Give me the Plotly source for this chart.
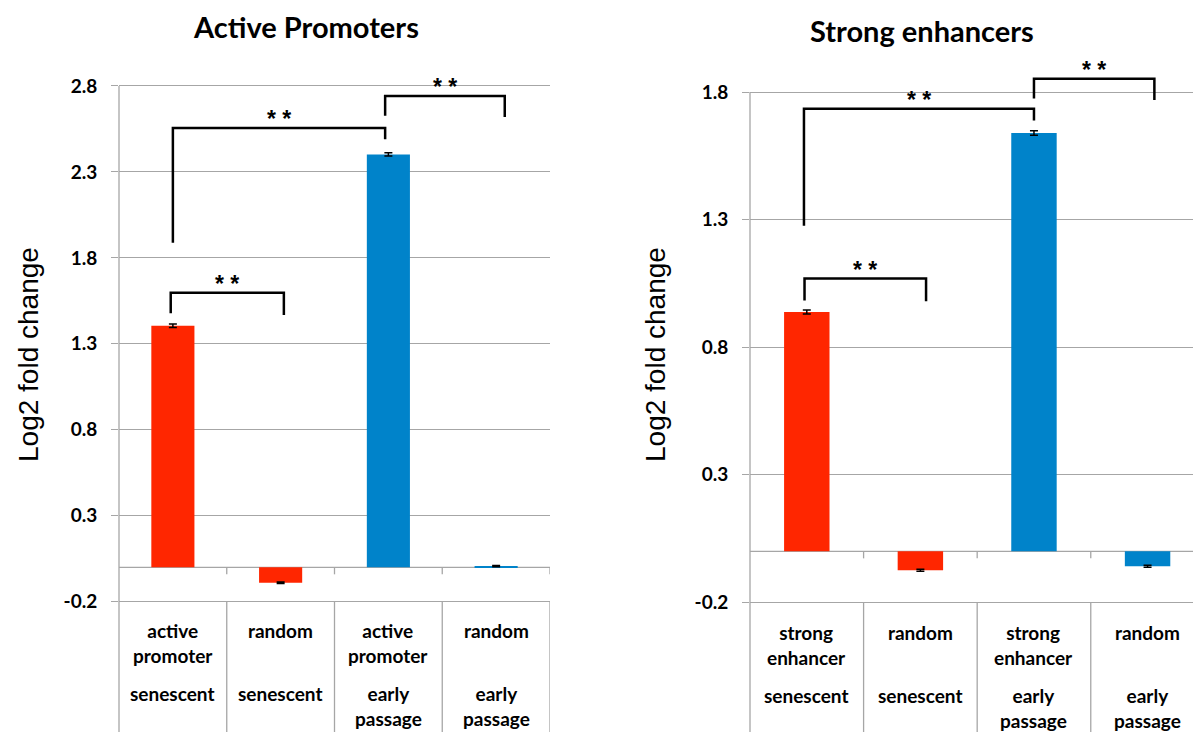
import plotly.graph_objects as go

FIG_W, FIG_H = 1193, 732

# ---- data -------------------------------------------------------------
promoter_types = ["active<br>promoter", "random", "active<br>promoter", "random"]
enhancer_types = ["strong<br>enhancer", "random", "strong<br>enhancer", "random"]
cell_states = ["senescent", "senescent", "early<br>passage", "early<br>passage"]

promoter_values = [1.405, -0.090, 2.402, 0.007]
promoter_errors = [0.010, 0.004, 0.010, 0.004]
enhancer_values = [0.938, -0.074, 1.640, -0.058]
enhancer_errors = [0.008, 0.004, 0.009, 0.004]

bar_colors = ["#FF2600", "#FF2600", "#0083CA", "#0083CA"]

promoter_ticks = [-0.2, 0.3, 0.8, 1.3, 1.8, 2.3, 2.8]
enhancer_ticks = [-0.2, 0.3, 0.8, 1.3, 1.8]

# significance brackets: (x start, x end, bar height, left foot, right foot)
promoter_brackets = [
    (-0.02, 1.03, 1.597, 1.478, 1.468),
    (0.00, 1.97, 2.556, 1.888, 2.490),
    (1.97, 3.08, 2.742, 2.627, 2.620),
]
enhancer_brackets = [
    (-0.02, 1.05, 1.069, 0.983, 0.980),
    (-0.025, 2.00, 1.735, 1.276, 1.689),
    (2.00, 3.06, 1.852, 1.775, 1.769),
]

GRID = "#A6A6A6"
LABEL_FONT = "Lato"

panels = [
    dict(xa="x", ya="y", types=promoter_types, values=promoter_values,
         errors=promoter_errors, ticks=promoter_ticks, brackets=promoter_brackets,
         title="Active Promoters", title_xy=(306, 27),
         xdom=(119, 550), xrange=(-0.5, 3.5), yrange=(-0.958, 3.30),
         ytitle_x=28, rows=(617, 680)),
    dict(xa="x2", ya="y2", types=enhancer_types, values=enhancer_values,
         errors=enhancer_errors, ticks=enhancer_ticks, brackets=enhancer_brackets,
         title="Strong enhancers", title_xy=(922, 31),
         xdom=(750, 1193), xrange=(-0.5, 3.40), yrange=(-0.708, 2.161),
         ytitle_x=655, rows=(619, 682)),
]

fig = go.Figure()
shapes, annotations = [], []

for i, p in enumerate(panels):
    xs = list(range(len(p["values"])))
    fig.add_trace(go.Bar(
        x=xs, y=p["values"], width=0.4,
        marker=dict(color=bar_colors, line=dict(width=0)),
        error_y=dict(type="data", array=p["errors"], color="black",
                     thickness=1.5, width=4),
        xaxis=p["xa"], yaxis=p["ya"], hoverinfo="skip",
    ))

    y0, y1 = p["yrange"]
    px_per_unit = FIG_H / (y1 - y0)
    bounds = [k + 0.5 for k in xs]
    xd0 = p["xdom"][0] / FIG_W

    # value axis line, zero line, category ticks and label-table rules
    shapes.append(dict(type="line", xref="paper", yref=p["ya"], x0=xd0, x1=xd0,
                       y0=p["ticks"][-1], y1=y0, line=dict(color=GRID, width=1.3),
                       layer="below"))
    shapes.append(dict(type="line", xref=p["xa"], yref=p["ya"], x0=-0.5, x1=3.5,
                       y0=0, y1=0, line=dict(color=GRID, width=1.3), layer="below"))
    for b in bounds:
        shapes.append(dict(type="line", xref=p["xa"], yref=p["ya"], x0=b, x1=b,
                           y0=0, y1=-7 / px_per_unit, line=dict(color=GRID, width=1.3),
                           layer="below"))
        shapes.append(dict(type="line", xref=p["xa"], yref=p["ya"], x0=b, x1=b,
                           y0=p["ticks"][0], y1=y0, line=dict(color=GRID, width=1.3),
                           layer="below"))

    # significance brackets with stars
    for (bx0, bx1, h, f0, f1) in p["brackets"]:
        shapes.append(dict(type="path", xref=p["xa"], yref=p["ya"],
                           path=f"M {bx0},{f0} L {bx0},{h} L {bx1},{h} L {bx1},{f1}",
                           line=dict(color="black", width=2.5), layer="above"))
        annotations.append(dict(xref=p["xa"], yref=p["ya"], x=(bx0 + bx1) / 2, y=h,
                                text="* *", showarrow=False, yanchor="middle",
                                yshift=9, font=dict(family="Liberation Sans", size=23,
                                                    color="black", weight="bold")))

    # category labels under the axis
    for k in xs:
        annotations.append(dict(xref=p["xa"], yref="paper", x=k,
                                y=1 - p["rows"][0] / FIG_H, yanchor="top",
                                text=p["types"][k], showarrow=False,
                                font=dict(family=LABEL_FONT, size=19, color="black",
                                          weight="bold")))
        annotations.append(dict(xref=p["xa"], yref="paper", x=k,
                                y=1 - p["rows"][1] / FIG_H, yanchor="top",
                                text=cell_states[k], showarrow=False,
                                font=dict(family=LABEL_FONT, size=19, color="black",
                                          weight="bold")))

    # panel title and value-axis title
    tx, ty = p["title_xy"]
    annotations.append(dict(xref="paper", yref="paper", x=tx / FIG_W, y=1 - ty / FIG_H,
                            text=p["title"], showarrow=False, xanchor="center",
                            yanchor="middle",
                            font=dict(family=LABEL_FONT, size=29, color="black",
                                      weight="bold")))
    annotations.append(dict(xref="paper", yref="paper", x=p["ytitle_x"] / FIG_W,
                            y=1 - 355 / FIG_H, text="Log2 fold change", textangle=-90,
                            showarrow=False, xanchor="center", yanchor="middle",
                            font=dict(family="Liberation Sans", size=28, color="black")))

    xkey = "xaxis" if i == 0 else "xaxis2"
    ykey = "yaxis" if i == 0 else "yaxis2"
    fig.update_layout({
        xkey: dict(domain=[p["xdom"][0] / FIG_W, p["xdom"][1] / FIG_W],
                   range=list(p["xrange"]), visible=False, anchor=p["ya"]),
        ykey: dict(domain=[0, 1], range=[y0, y1], anchor=p["xa"],
                   tickvals=p["ticks"], ticktext=[f"{t:.1f}" for t in p["ticks"]],
                   showgrid=True, gridcolor=GRID, gridwidth=1.3, zeroline=False,
                   showline=False, ticks="outside", ticklen=7, tickcolor=GRID,
                   tickwidth=1.3, ticklabelstandoff=10,
                   tickfont=dict(family=LABEL_FONT, size=19, color="black",
                                 weight="bold")),
    })

fig.update_layout(
    width=FIG_W, height=FIG_H, margin=dict(l=0, r=0, t=0, b=0),
    paper_bgcolor="white", plot_bgcolor="white", showlegend=False,
    shapes=shapes, annotations=annotations,
)

fig.write_html("out.html")
